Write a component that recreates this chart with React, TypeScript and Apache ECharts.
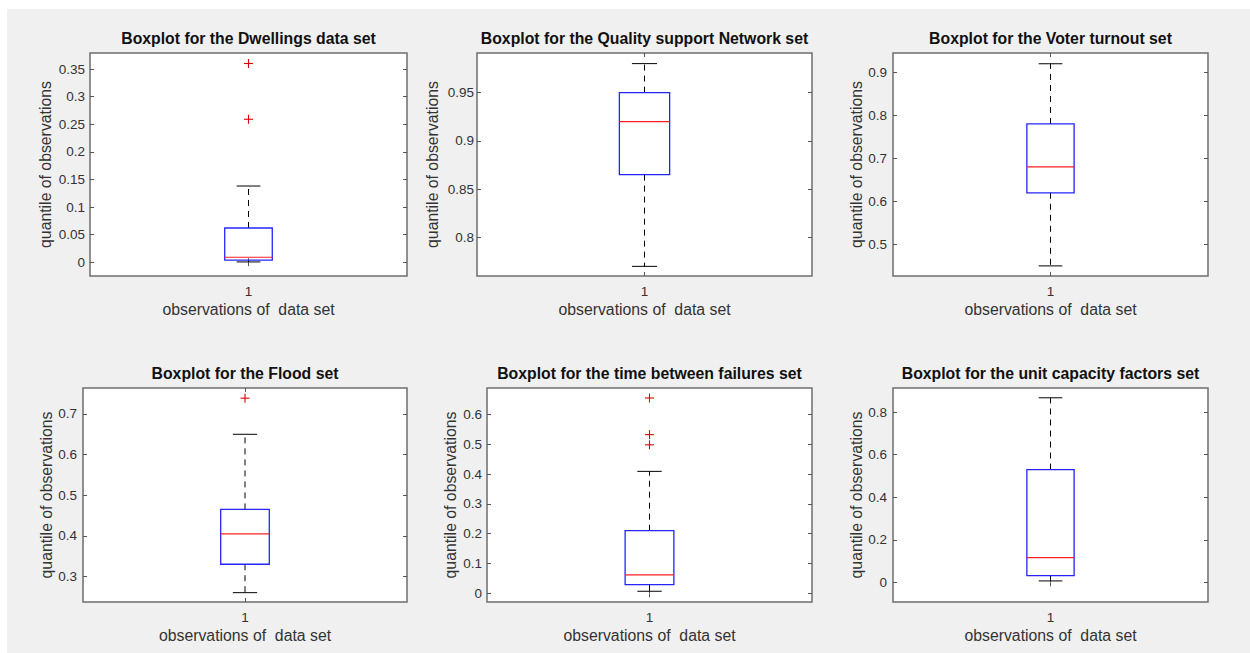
import React, { useEffect, useRef } from "react";
import * as echarts from "echarts";

// ---------- data ----------
const titles = [
  "Boxplot for the Dwellings data set",
  "Boxplot for the Quality support Network set",
  "Boxplot for the Voter turnout set",
  "Boxplot for the Flood set",
  "Boxplot for the time between failures set",
  "Boxplot for the unit capacity factors set",
];
const categories = ["1"];
const lowerWhisker = [0.0005, 0.77, 0.45, 0.26, 0.007, 0.007];
const quartile1 = [0.0036, 0.865, 0.62, 0.33, 0.029, 0.032];
const medians = [0.009, 0.92, 0.68, 0.405, 0.062, 0.116];
const quartile3 = [0.062, 0.95, 0.78, 0.465, 0.21, 0.53];
const upperWhisker = [0.138, 0.98, 0.92, 0.65, 0.409, 0.867];
const outliers = [[0.36, 0.259], [], [], [0.739], [0.655, 0.532, 0.498], []];
const yMin = [-0.025, 0.76, 0.4265, 0.237, -0.029, -0.092];
const yMax = [0.379, 0.991, 0.945, 0.764, 0.6885, 0.913];
const yTicks = [
  [0, 0.05, 0.1, 0.15, 0.2, 0.25, 0.3, 0.35],
  [0.8, 0.85, 0.9, 0.95],
  [0.5, 0.6, 0.7, 0.8, 0.9],
  [0.3, 0.4, 0.5, 0.6, 0.7],
  [0, 0.1, 0.2, 0.3, 0.4, 0.5, 0.6],
  [0, 0.2, 0.4, 0.6, 0.8],
];
const xAxisName = "observations of  data set";
const yAxisName = "quantile of observations";

// ---------- layout (image coordinates) ----------
const OX = 7;
const OY = 9;
const boxes = [
  [90, 53, 407, 276],
  [477, 53, 812, 276],
  [893, 53, 1208, 276],
  [83, 388, 407, 602],
  [487, 388, 812, 602],
  [893, 388, 1208, 602],
];
const yNameCenter = [45, 45, 37, 37, 37, 37];
const yLabelMargin = [5, 3, 6, 6, 5, 6];
const FONT = "'Liberation Sans', Arial, Helvetica, sans-serif";
const BOX_FRAC = 0.15;

const fmt = (v: number) => String(parseFloat(v.toFixed(4)));

export default function App() {
  const ref = useRef<HTMLDivElement>(null);
  useEffect(() => {
    if (!ref.current) return;
    const chart = echarts.init(ref.current, null, { renderer: "svg" });

    const grids = boxes.map(([l, t, r, b]) => ({
      left: l - OX,
      top: t - OY,
      width: r - l,
      height: b - t,
      show: true,
      backgroundColor: "#ffffff",
      borderColor: "#6e6e6e",
      borderWidth: 1.5,
      containLabel: false,
    }));

    const tickStyle = { color: "#555", width: 1 };
    const xBottom = boxes.map((_, i) => ({
      type: "category",
      gridIndex: i,
      data: categories,
      boundaryGap: true,
      position: "bottom",
      axisLine: { show: false },
      axisTick: { show: true, inside: true, alignWithLabel: true, length: 4, lineStyle: tickStyle },
      axisLabel: { color: "#333", fontSize: 13.5, fontFamily: FONT, margin: 8 },
      splitLine: { show: false },
      name: xAxisName,
      nameLocation: "middle",
      nameGap: 25,
      nameTextStyle: { color: "#333", fontSize: 15.8, fontFamily: FONT },
    }));
    const xTop = boxes.map((_, i) => ({
      type: "category",
      gridIndex: i,
      data: categories,
      boundaryGap: true,
      position: "top",
      axisLine: { show: false },
      axisTick: { show: true, inside: true, alignWithLabel: true, length: 4, lineStyle: tickStyle },
      axisLabel: { show: false },
      splitLine: { show: false },
    }));
    const yLeft = boxes.map((_, i) => ({
      type: "value",
      gridIndex: i,
      min: yMin[i],
      max: yMax[i],
      position: "left",
      axisLine: { show: false },
      axisTick: { show: true, inside: true, length: 4, lineStyle: tickStyle, customValues: yTicks[i] },
      axisLabel: {
        color: "#333",
        fontSize: 13.5,
        fontFamily: FONT,
        margin: yLabelMargin[i],
        customValues: yTicks[i],
        formatter: (v: number) => fmt(v),
      },
      splitLine: { show: false },
      name: yAxisName,
      nameLocation: "middle",
      nameGap: yNameCenter[i] - 8,
      nameTextStyle: { color: "#333", fontSize: 15.8, fontFamily: FONT },
    }));
    const yRight = boxes.map((_, i) => ({
      type: "value",
      gridIndex: i,
      min: yMin[i],
      max: yMax[i],
      position: "right",
      axisLine: { show: false },
      axisTick: { show: true, inside: true, length: 4, lineStyle: tickStyle, customValues: yTicks[i] },
      axisLabel: { show: false },
      splitLine: { show: false },
    }));

    const boxSeries = boxes.map((_, i) => ({
      type: "custom",
      xAxisIndex: i,
      yAxisIndex: i,
      data: [[0, lowerWhisker[i], quartile1[i], medians[i], quartile3[i], upperWhisker[i]]],
      encode: { x: 0, y: [1, 2, 3, 4, 5] },
      renderItem: (params: any, api: any) => {
        const cx = api.coord([api.value(0), api.value(3)])[0];
        const yLo = api.coord([0, api.value(1)])[1];
        const yQ1 = api.coord([0, api.value(2)])[1];
        const yMed = api.coord([0, api.value(3)])[1];
        const yQ3 = api.coord([0, api.value(4)])[1];
        const yHi = api.coord([0, api.value(5)])[1];
        const bw = api.size([1, 0])[0] * BOX_FRAC;
        const cap = bw / 4;
        const dash = { stroke: "#000", lineWidth: 1, lineDash: [6, 5] };
        const solid = { stroke: "#000", lineWidth: 1 };
        return {
          type: "group",
          children: [
            { type: "line", shape: { x1: cx, y1: yQ3, x2: cx, y2: yHi }, style: dash },
            { type: "line", shape: { x1: cx, y1: yQ1, x2: cx, y2: yLo }, style: dash },
            { type: "line", shape: { x1: cx - cap, y1: yHi, x2: cx + cap, y2: yHi }, style: solid },
            { type: "line", shape: { x1: cx - cap, y1: yLo, x2: cx + cap, y2: yLo }, style: solid },
            {
              type: "rect",
              shape: { x: cx - bw / 2, y: yQ3, width: bw, height: yQ1 - yQ3 },
              style: { fill: "none", stroke: "#2424ff", lineWidth: 1.3 },
            },
            {
              type: "line",
              shape: { x1: cx - bw / 2, y1: yMed, x2: cx + bw / 2, y2: yMed },
              style: { stroke: "#ff2020", lineWidth: 1.2 },
            },
          ],
        };
      },
    }));

    const outlierSeries = boxes.map((_, i) => ({
      type: "custom",
      xAxisIndex: i,
      yAxisIndex: i,
      data: outliers[i].map((v) => [0, v]),
      encode: { x: 0, y: 1 },
      renderItem: (params: any, api: any) => {
        const p = api.coord([api.value(0), api.value(1)]);
        const s = 4.5;
        const st = { stroke: "#e00000", lineWidth: 1.1 };
        return {
          type: "group",
          children: [
            { type: "line", shape: { x1: p[0] - s, y1: p[1], x2: p[0] + s, y2: p[1] }, style: st },
            { type: "line", shape: { x1: p[0], y1: p[1] - s, x2: p[0], y2: p[1] + s }, style: st },
          ],
        };
      },
    }));

    const titleOpts = boxes.map(([l, t, r], i) => ({
      text: titles[i],
      left: (l + r) / 2 - OX,
      top: t - 14 - 9 - OY,
      textAlign: "center",
      padding: 0,
      textStyle: { fontSize: 15.8, fontWeight: "bold", color: "#111", fontFamily: FONT },
    }));

    chart.setOption({
      animation: false,
      backgroundColor: "transparent",
      title: titleOpts,
      grid: grids,
      xAxis: [...xBottom, ...xTop],
      yAxis: [...yLeft, ...yRight],
      series: [...boxSeries, ...outlierSeries],
    } as any);

    return () => chart.dispose();
  }, []);

  return (
    <div style={{ position: "absolute", left: 0, top: 0, width: 1250, height: 653, background: "#ffffff" }}>
      <div
        ref={ref}
        style={{ position: "absolute", left: OX, top: OY, width: 1250 - OX, height: 653 - OY, background: "#f0f0f0" }}
      />
    </div>
  );
}
